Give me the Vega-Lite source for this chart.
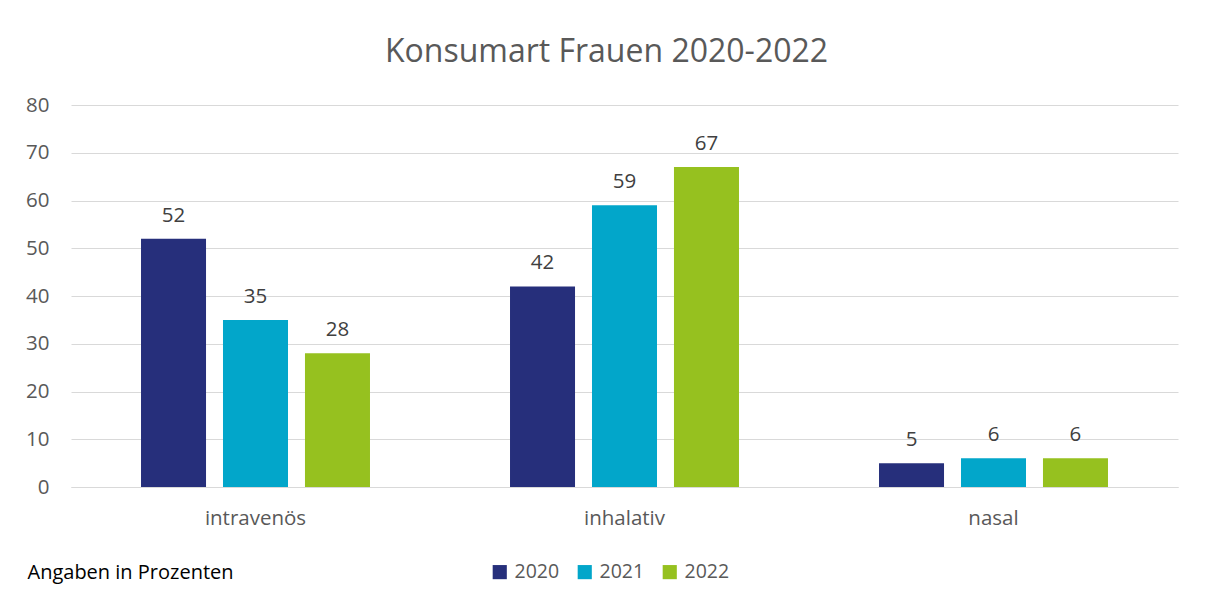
{
  "$schema": "https://vega.github.io/schema/vega-lite/v6.json",
  "autosize": "none",
  "width": 1107,
  "height": 382,
  "padding": {"left": 71, "top": 105, "right": 28, "bottom": 121},
  "background": "white",
  "title": {
    "text": "Konsumart Frauen 2020-2022",
    "fontSize": 32,
    "font": "Open Sans",
    "fontWeight": "normal",
    "color": "#595959",
    "anchor": "middle",
    "dx": -18,
    "offset": 26
  },
  "data": {
    "values": [
      {"Konsumart": "intravenös", "Jahr": "2020", "Wert": 52},
      {"Konsumart": "intravenös", "Jahr": "2021", "Wert": 35},
      {"Konsumart": "intravenös", "Jahr": "2022", "Wert": 28},
      {"Konsumart": "inhalativ", "Jahr": "2020", "Wert": 42},
      {"Konsumart": "inhalativ", "Jahr": "2021", "Wert": 59},
      {"Konsumart": "inhalativ", "Jahr": "2022", "Wert": 67},
      {"Konsumart": "nasal", "Jahr": "2020", "Wert": 5},
      {"Konsumart": "nasal", "Jahr": "2021", "Wert": 6},
      {"Konsumart": "nasal", "Jahr": "2022", "Wert": 6}
    ]
  },
  "encoding": {
    "x": {
      "field": "Konsumart",
      "type": "nominal",
      "sort": ["intravenös", "inhalativ", "nasal"],
      "scale": {"paddingInner": 0, "paddingOuter": 0},
      "axis": {
        "title": "Angaben in Prozenten",
        "titleAnchor": "start",
        "titleX": -44,
        "titleY": 85,
        "titleBaseline": "middle",
        "titleAlign": "left",
        "titleFont": "Open Sans",
        "titleFontSize": 20,
        "titleFontWeight": "normal",
        "titleColor": "#000000",
        "labelAngle": 0,
        "labelFont": "Open Sans",
        "labelFontSize": 20.5,
        "labelColor": "#595959",
        "labelPadding": 21,
        "ticks": false,
        "domain": true,
        "domainColor": "#d9d9d9",
        "grid": false
      }
    },
    "xOffset": {
      "field": "Jahr",
      "type": "nominal",
      "scale": {"paddingInner": 0.207, "paddingOuter": 0.854}
    },
    "y": {
      "field": "Wert",
      "type": "quantitative",
      "scale": {"domain": [0, 80]},
      "axis": {
        "title": null,
        "values": [0, 10, 20, 30, 40, 50, 60, 70, 80],
        "labelFont": "Open Sans",
        "labelFontSize": 20.5,
        "labelColor": "#595959",
        "labelPadding": 22,
        "ticks": false,
        "domain": false,
        "gridColor": "#d9d9d9",
        "gridWidth": 1.2
      }
    }
  },
  "layer": [
    {
      "mark": {"type": "bar"},
      "encoding": {
        "color": {
          "field": "Jahr",
          "type": "nominal",
          "scale": {"domain": ["2020", "2021", "2022"], "range": ["#262F7B", "#02A6CA", "#96C11F"]},
          "legend": {
            "title": null,
            "orient": "none",
            "legendX": 419,
            "legendY": 457,
            "direction": "horizontal",
            "symbolType": "square",
            "symbolSize": 200,
            "symbolStrokeWidth": 0,
            "labelFont": "Open Sans",
            "labelFontSize": 19.5,
            "labelColor": "#595959",
            "labelOffset": 5,
            "columnPadding": 15
          }
        }
      }
    },
    {
      "mark": {"type": "text", "baseline": "bottom", "dy": -13, "font": "Open Sans", "fontSize": 20.5, "color": "#404040"},
      "encoding": {
        "text": {"field": "Wert", "type": "quantitative"}
      }
    }
  ],
  "config": {
    "view": {"stroke": null}
  }
}
